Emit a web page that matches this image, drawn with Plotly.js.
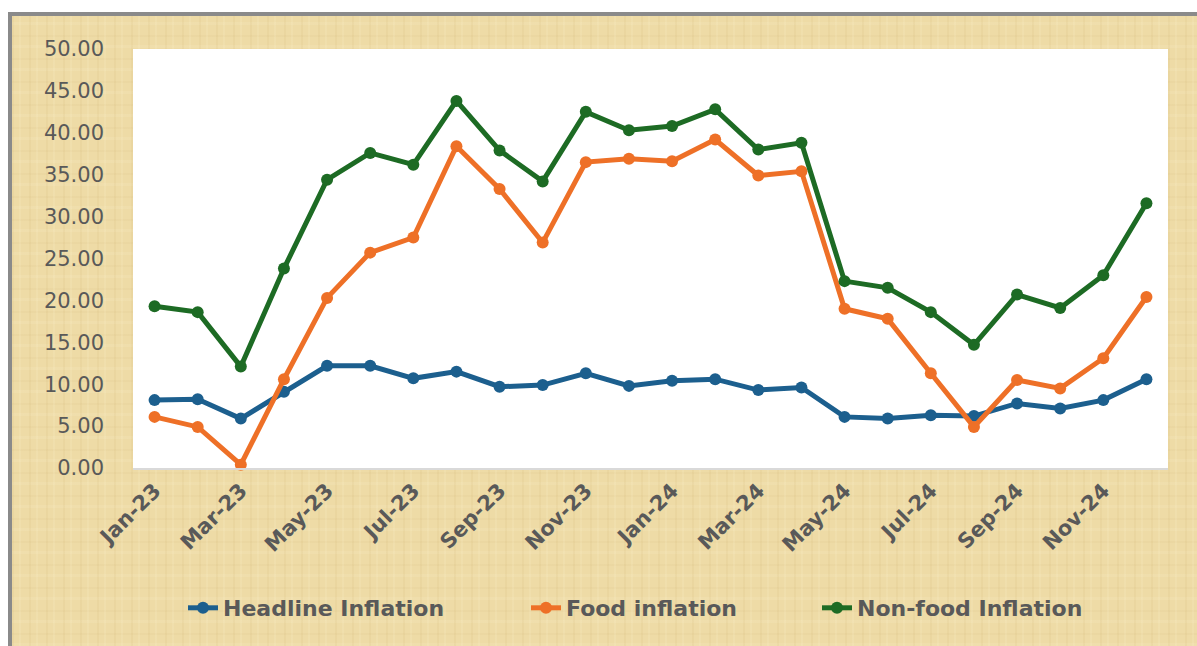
<!DOCTYPE html>
<html>
<head>
<meta charset="utf-8">
<script src="https://cdn.plot.ly/plotly-3.0.1.min.js"></script>
<style>
  html, body { margin:0; padding:0; background:#ffffff; width:1197px; height:646px; overflow:hidden; }
  #frame {
    position:absolute; left:8px; top:12px; width:1189px; height:634px;
    border-top:4px solid #8a8a8a; border-left:4px solid #8a8a8a; box-sizing:border-box;
    background-color:#eedba6;
    background-image:
      repeating-linear-gradient(90deg, rgba(170,130,50,0.06) 0px, rgba(170,130,50,0.06) 2px, rgba(255,255,255,0) 2px, rgba(255,255,255,0) 7px, rgba(255,245,210,0.14) 7px, rgba(255,245,210,0.14) 9px, rgba(255,255,255,0) 9px, rgba(255,255,255,0) 17px),
      repeating-linear-gradient(0deg, rgba(255,250,225,0.10) 0px, rgba(255,250,225,0.10) 3px, rgba(255,255,255,0) 3px, rgba(255,255,255,0) 11px, rgba(160,120,50,0.04) 11px, rgba(160,120,50,0.04) 13px, rgba(255,255,255,0) 13px, rgba(255,255,255,0) 23px);
  }
  #chart { position:absolute; left:0; top:0; width:1197px; height:646px; }
</style>
</head>
<body>
<div id="frame"></div>
<div id="chart"></div>
<script>
const months = ["Jan-23","Feb-23","Mar-23","Apr-23","May-23","Jun-23","Jul-23","Aug-23","Sep-23","Oct-23","Nov-23","Dec-23",
                "Jan-24","Feb-24","Mar-24","Apr-24","May-24","Jun-24","Jul-24","Aug-24","Sep-24","Oct-24","Nov-24","Dec-24"];
const tickLabels = ["Jan-23","Mar-23","May-23","Jul-23","Sep-23","Nov-23","Jan-24","Mar-24","May-24","Jul-24","Sep-24","Nov-24"];

const headline = [8.1, 8.2, 5.9, 9.1, 12.2, 12.2, 10.7, 11.5, 9.7, 9.9, 11.3, 9.8,
                  10.4, 10.6, 9.3, 9.6, 6.1, 5.9, 6.3, 6.2, 7.7, 7.1, 8.1, 10.6];
const food     = [6.1, 4.9, 0.4, 10.6, 20.3, 25.7, 27.5, 38.4, 33.3, 26.9, 36.5, 36.9,
                  36.6, 39.2, 34.9, 35.4, 19.0, 17.8, 11.3, 4.9, 10.5, 9.5, 13.1, 20.4];
const nonfood  = [19.3, 18.6, 12.1, 23.8, 34.4, 37.6, 36.2, 43.8, 37.9, 34.2, 42.5, 40.3,
                  40.8, 42.8, 38.0, 38.8, 22.3, 21.5, 18.6, 14.7, 20.7, 19.1, 23.0, 31.6];

const seriesNames = ["Headline Inflation", "Food inflation", "Non-food Inflation"];
const colors = ["#1c5f8e", "#ee7027", "#1d6b24"];

function mk(y, i, leg) {
  return {
    x: months, y: y, name: seriesNames[i], type: "scatter", mode: "lines+markers",
    line: { color: colors[i], width: 5 },
    marker: { color: colors[i], size: 12 },
    cliponaxis: false, legend: leg, hoverinfo: "skip"
  };
}

const data = [mk(headline, 0, "legend"), mk(food, 1, "legend2"), mk(nonfood, 2, "legend3")];

const legFont = { family: "'DejaVu Sans', sans-serif", size: 22, color: "#595959", weight: 700 };
function legAt(px) {
  return { x: px / 1197, xref: "container", xanchor: "left", y: 1 - 608 / 646, yref: "container",
           yanchor: "middle", orientation: "h", bgcolor: "rgba(0,0,0,0)", font: legFont, borderwidth: 0 };
}

const layout = {
  width: 1197, height: 646,
  paper_bgcolor: "rgba(0,0,0,0)",
  plot_bgcolor: "#ffffff",
  margin: { l: 133, r: 29, t: 49, b: 178, pad: 0 },
  showlegend: true,
  xaxis: {
    type: "category", range: [-0.5, 23.5], tickmode: "array", tickvals: tickLabels, ticktext: tickLabels,
    tickangle: -45, showgrid: false, zeroline: false, showline: true, linecolor: "#d9d9d9", linewidth: 2,
    ticks: "", tickfont: { family: "'DejaVu Sans', sans-serif", size: 21, color: "#595959", weight: 700 },
    fixedrange: true
  },
  yaxis: {
    range: [0, 50], tickmode: "linear", tick0: 0, dtick: 5, tickformat: ".2f",
    showgrid: false, zeroline: false, showline: false, ticks: "",
    ticklabelstandoff: 28,
    tickfont: { family: "'DejaVu Sans', sans-serif", size: 21, color: "#595959" },
    fixedrange: true
  },
  legend: legAt(183),
  legend2: legAt(526),
  legend3: legAt(817),
  hovermode: false
};

Plotly.newPlot("chart", data, layout, { displayModeBar: false, staticPlot: true });
</script>
</body>
</html>
